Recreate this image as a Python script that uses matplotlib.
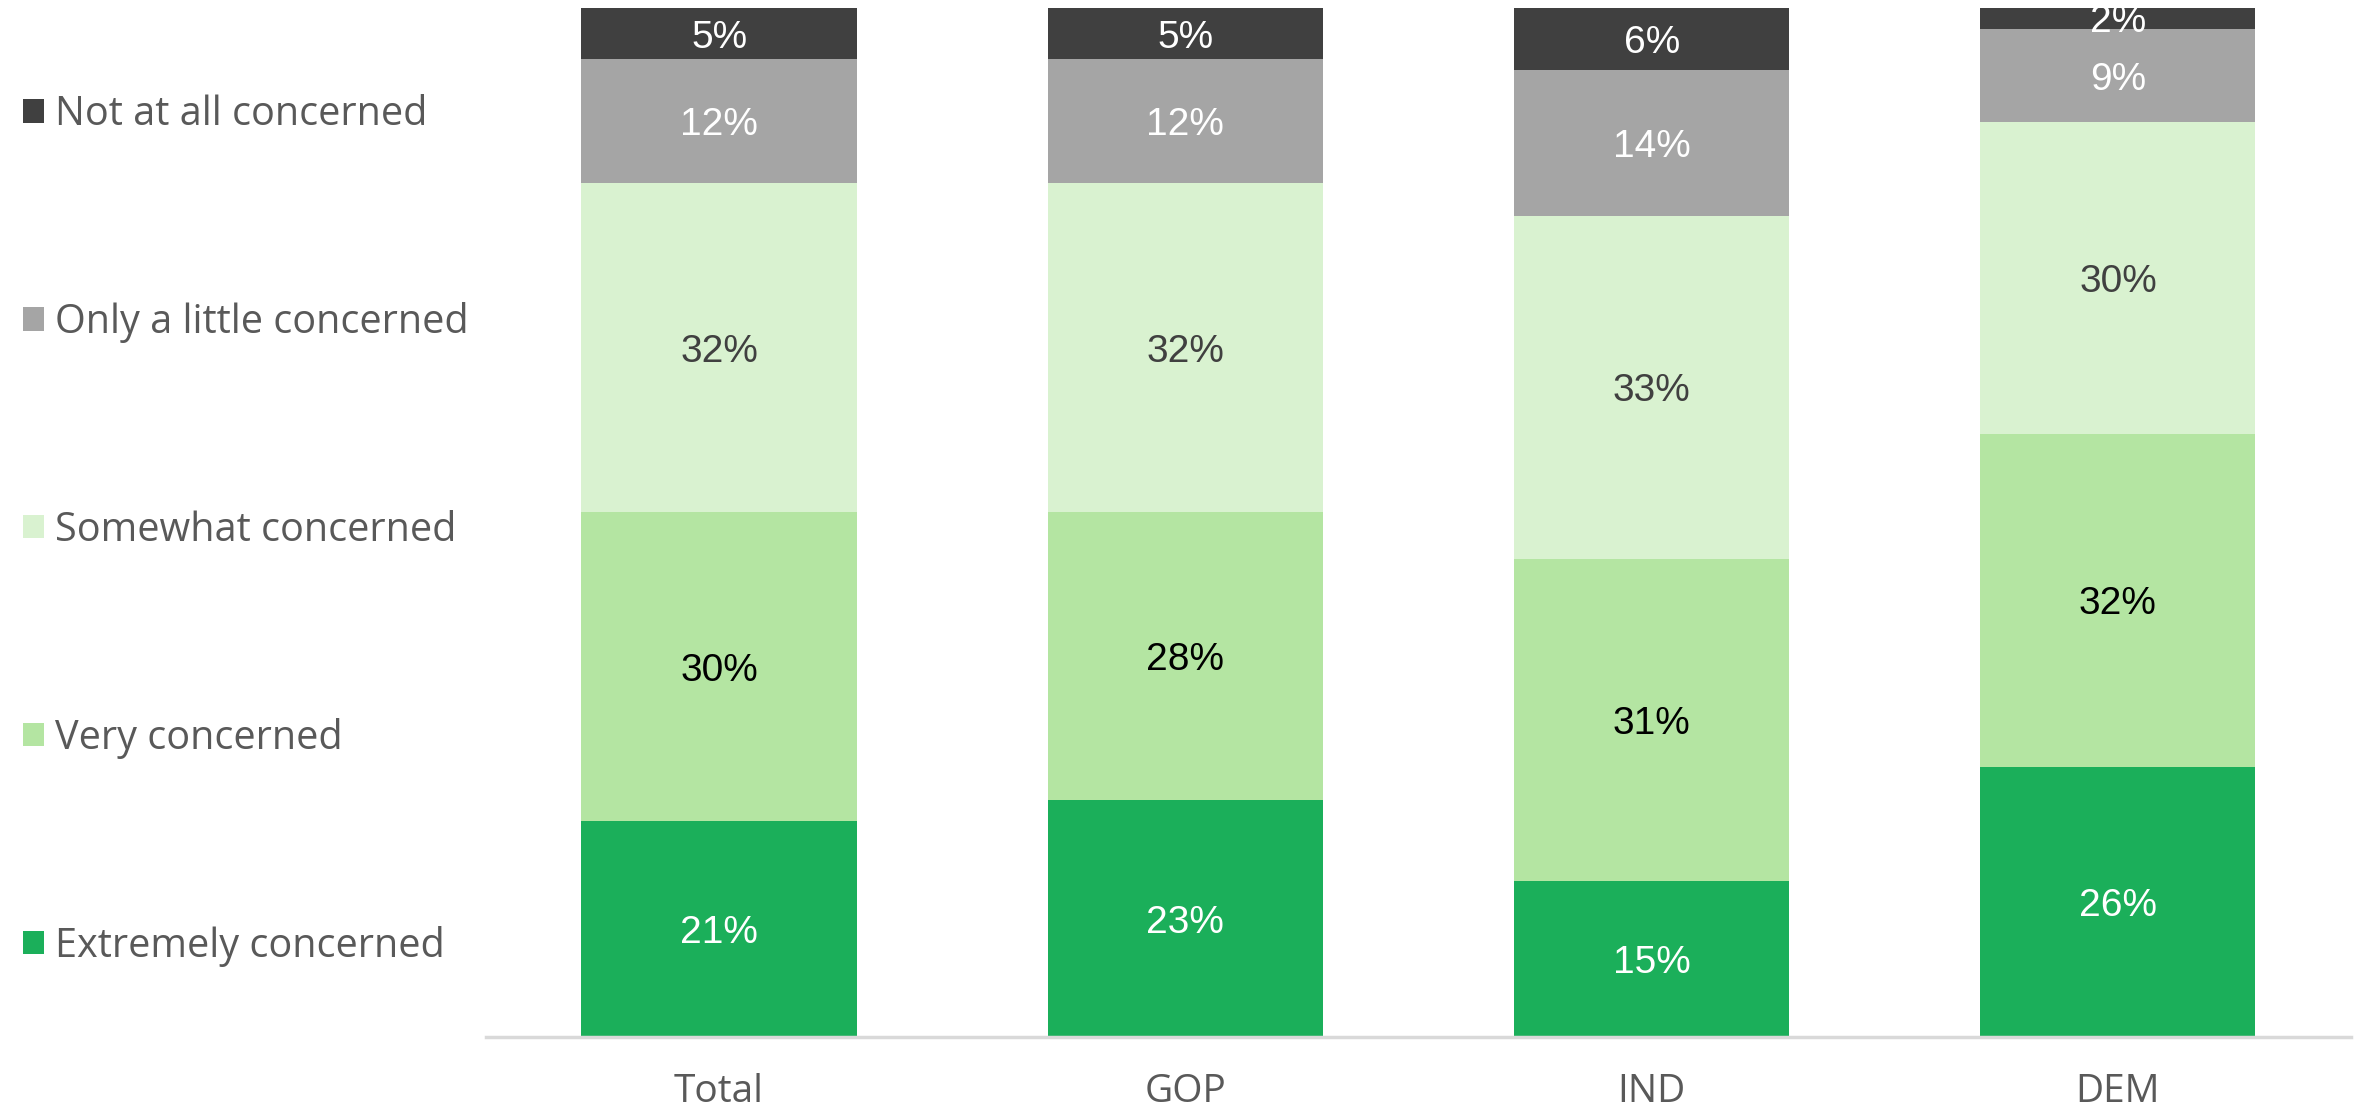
import numpy as np
import matplotlib.pyplot as plt

# data
groups = ["Total", "GOP", "IND", "DEM"]
series = ["Extremely concerned", "Very concerned", "Somewhat concerned",
          "Only a little concerned", "Not at all concerned"]
extremely = [21, 23, 15, 26]
very = [30, 28, 31, 32]
somewhat = [32, 32, 33, 30]
a_little = [12, 12, 14, 9]
not_at_all = [5, 5, 6, 2]

values = np.array([extremely, very, somewhat, a_little, not_at_all], dtype=float)
shares = values / values.sum(axis=0) * 100  # 100% stacked

colors = ["#1BAF5A", "#B4E5A2", "#D9F2D0", "#A5A5A5", "#404040"]
label_colors = ["white", "black", "#404040", "white", "white"]

plt.rcParams["font.family"] = ["Liberation Sans", "DejaVu Sans"]
side_font = ["Open Sans", "DejaVu Sans"]

fig = plt.figure(figsize=(23.61, 11.09), dpi=100)
ax = fig.add_axes([0.2058, 0.0649, 0.79, 0.9279])

x = np.arange(len(groups))
bottom = np.zeros(len(groups))
handles = []
for i, name in enumerate(series):
    bars = ax.bar(x, shares[i], 0.59, bottom=bottom, color=colors[i],
                  label=name, zorder=2)
    handles.append(bars)
    for j, b in enumerate(bars):
        ax.text(b.get_x() + b.get_width() / 2, bottom[j] + shares[i][j] / 2,
                f"{int(values[i][j])}%", ha="center", va="center_baseline",
                fontsize=28, color=label_colors[i], clip_on=True, zorder=3)
    bottom += shares[i]

ax.set_xlim(-0.5, 3.5)
ax.set_ylim(0, 100)
ax.set_xticks(x)
ax.set_xticklabels(groups, fontsize=28, color="#595959", family=side_font)
ax.tick_params(axis="x", length=0, pad=26)
ax.set_yticks([])
for s in ["top", "right", "left"]:
    ax.spines[s].set_visible(False)
ax.spines["bottom"].set_color("#D9D9D9")
ax.spines["bottom"].set_linewidth(2.5)

leg = fig.legend(handles[::-1], series[::-1], loc="upper left",
                 bbox_to_anchor=(0.003, 0.929), frameon=False,
                 prop={"family": side_font, "size": 28.5},
                 labelcolor="#595959", handlelength=0.53, handleheight=0.53,
                 handletextpad=0.28, labelspacing=4.22, borderaxespad=0)

fig.savefig("out.png", dpi=100)
